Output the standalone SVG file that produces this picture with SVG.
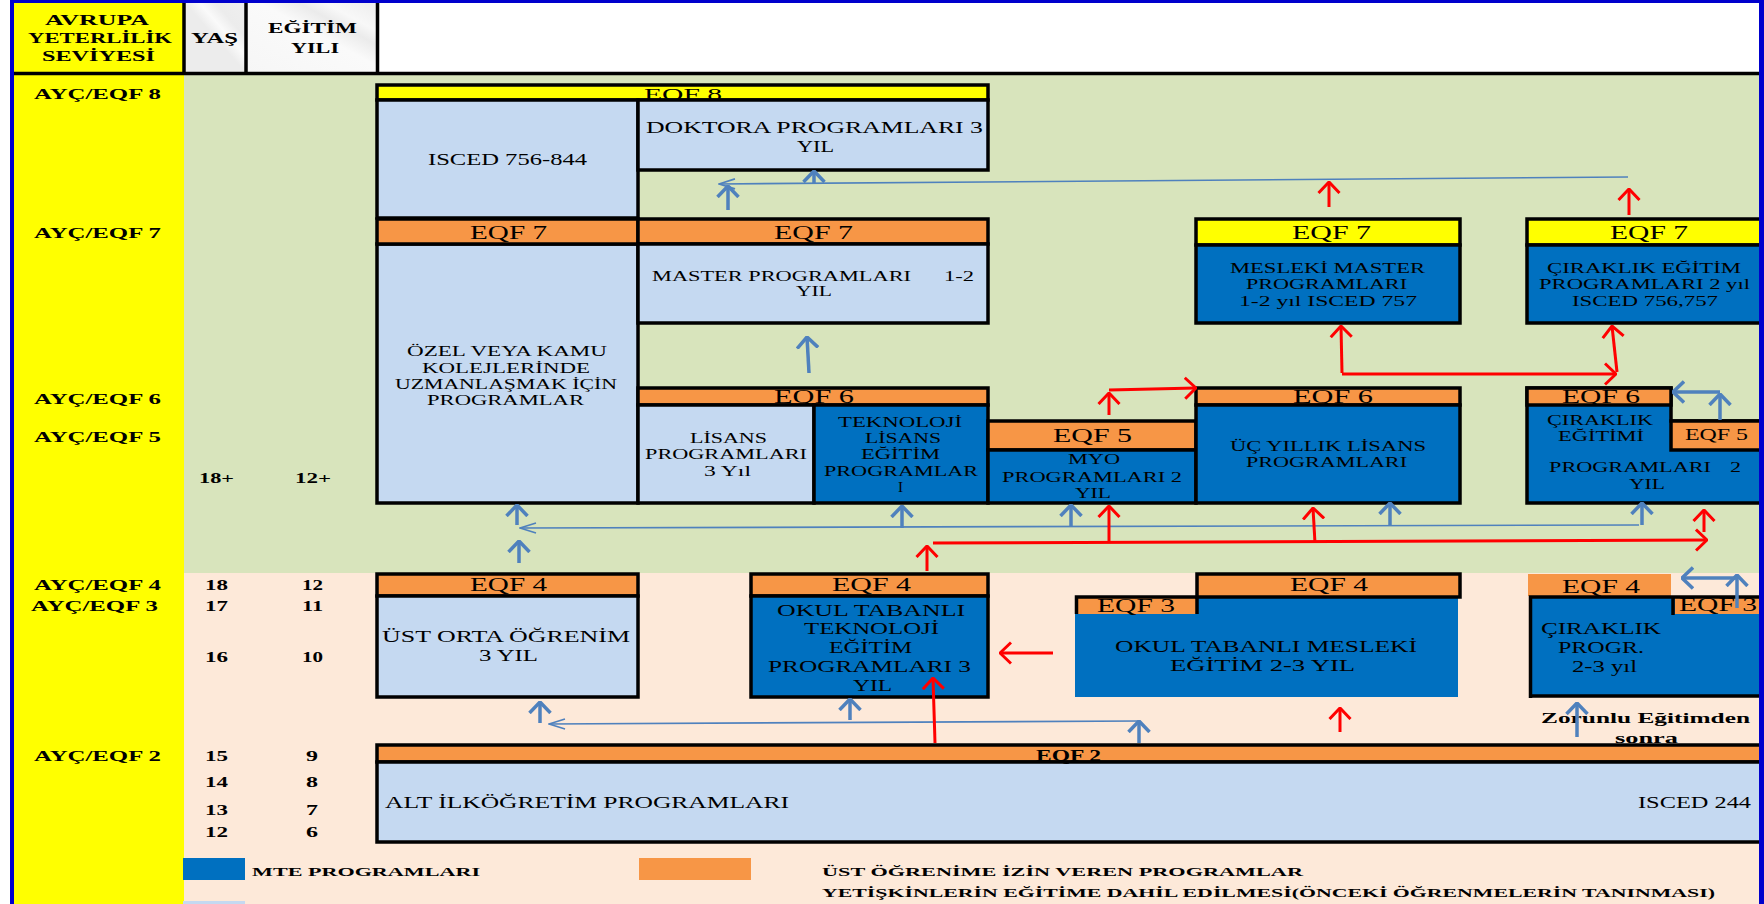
<svg xmlns="http://www.w3.org/2000/svg" width="1764" height="904" viewBox="0 0 1764 904">
  <style>
    text { font-family: "Liberation Serif", "Times New Roman", serif; fill: #000; }
    .b { font-weight: bold; }
    .s15 { font-size: 15px; }
    .s16 { font-size: 16px; }
    .s17 { font-size: 17px; }
    .s19 { font-size: 19px; }
    .s13 { font-size: 13px; }
    .box { stroke: #000; stroke-width: 3.5; }
    .yel { fill: #FFFF00; }
    .ora { fill: #F79646; }
    .lb { fill: #C5D9F1; }
    .db { fill: #0070C0; }
    .ab { fill: none; stroke: #4F81BD; stroke-width: 3.5; }
    .at { fill: none; stroke: #4F81BD; stroke-width: 1.6; }
    .ar { fill: none; stroke: #FF0000; stroke-width: 3; }
  </style>
  <defs>
    <linearGradient id="cellGray" x1="0" y1="1" x2="1" y2="0">
      <stop offset="0" stop-color="#ECECEC"/>
      <stop offset="0.5" stop-color="#ECECEC"/>
      <stop offset="0.62" stop-color="#FAFAFA"/>
      <stop offset="0.75" stop-color="#ECECEC"/>
      <stop offset="1" stop-color="#EFEFEF"/>
    </linearGradient>
    <linearGradient id="cellGray2" x1="0" y1="1" x2="1" y2="0">
      <stop offset="0" stop-color="#F6F6F6"/>
      <stop offset="0.55" stop-color="#FAFAFA"/>
      <stop offset="0.7" stop-color="#EBEBEB"/>
      <stop offset="0.8" stop-color="#F8F8F8"/>
      <stop offset="1" stop-color="#EDEDED"/>
    </linearGradient>
    <marker id="hb" markerUnits="userSpaceOnUse" viewBox="0 0 13 24" refX="12" refY="12" markerWidth="13" markerHeight="24" orient="auto">
      <path d="M1,1.5 L12,12 L1,22.5" fill="none" stroke="#4F81BD" stroke-width="3.5"/>
    </marker>
    <marker id="hr" markerUnits="userSpaceOnUse" viewBox="0 0 13 24" refX="12" refY="12" markerWidth="13" markerHeight="24" orient="auto">
      <path d="M1,1.5 L12,12 L1,22.5" fill="none" stroke="#FF0000" stroke-width="3"/>
    </marker>
    <marker id="ht" markerUnits="userSpaceOnUse" viewBox="0 0 18 12" refX="17" refY="6" markerWidth="18" markerHeight="12" orient="auto">
      <path d="M1,1 L17,6 L1,11" fill="none" stroke="#4F81BD" stroke-width="1.6"/>
    </marker>
  </defs>

  <!-- page backgrounds -->
  <rect x="0" y="0" width="1764" height="904" fill="#FFFFFF"/>
  <rect x="14" y="0" width="170" height="904" fill="#FFFF00"/>
  <rect x="184" y="75" width="1575" height="498" fill="#D8E4BC"/>
  <rect x="184" y="573" width="1575" height="331" fill="#FDE9D9"/>
  <rect x="185" y="3" width="61" height="70" fill="url(#cellGray)"/>
  <rect x="247" y="3" width="130" height="70" fill="url(#cellGray2)"/>

  <!-- header grid -->
  <g id="header">
    <path d="M14,73.5 H1759 M184,2 V73 M246,2 V73 M377.5,2 V73" stroke="#000" stroke-width="3.5" fill="none"/>
    <text class="b s15" x="45" y="25" textLength="104" lengthAdjust="spacingAndGlyphs">AVRUPA</text>
    <text class="b s15" x="28" y="43" textLength="144" lengthAdjust="spacingAndGlyphs">YETERLİLİK</text>
    <text class="b s15" x="42" y="61" textLength="113" lengthAdjust="spacingAndGlyphs">SEVİYESİ</text>
    <text class="b s15" x="191" y="43" textLength="47" lengthAdjust="spacingAndGlyphs">YAŞ</text>
    <text class="b s15" x="268" y="33" textLength="89" lengthAdjust="spacingAndGlyphs">EĞİTİM</text>
    <text class="b s15" x="291" y="53" textLength="48" lengthAdjust="spacingAndGlyphs">YILI</text>
  </g>

  <!-- level, age and year column -->
  <g id="levels">
    <text class="b s15" x="34" y="99" textLength="127" lengthAdjust="spacingAndGlyphs">AYÇ/EQF 8</text>
    <text class="b s15" x="34" y="238" textLength="127" lengthAdjust="spacingAndGlyphs">AYÇ/EQF 7</text>
    <text class="b s15" x="34" y="404" textLength="127" lengthAdjust="spacingAndGlyphs">AYÇ/EQF 6</text>
    <text class="b s15" x="34" y="442" textLength="127" lengthAdjust="spacingAndGlyphs">AYÇ/EQF 5</text>
    <text class="b s15" x="34" y="590" textLength="127" lengthAdjust="spacingAndGlyphs">AYÇ/EQF 4</text>
    <text class="b s15" x="31" y="611" textLength="127" lengthAdjust="spacingAndGlyphs">AYÇ/EQF 3</text>
    <text class="b s15" x="34" y="761" textLength="127" lengthAdjust="spacingAndGlyphs">AYÇ/EQF 2</text>
    <text class="b s15" x="199" y="483" textLength="35" lengthAdjust="spacingAndGlyphs">18+</text>
    <text class="b s15" x="295" y="483" textLength="36" lengthAdjust="spacingAndGlyphs">12+</text>
    <text class="b s15" x="205" y="590" textLength="23" lengthAdjust="spacingAndGlyphs">18</text>
    <text class="b s15" x="302" y="590" textLength="21" lengthAdjust="spacingAndGlyphs">12</text>
    <text class="b s15" x="205" y="611" textLength="23" lengthAdjust="spacingAndGlyphs">17</text>
    <text class="b s15" x="302" y="611" textLength="21" lengthAdjust="spacingAndGlyphs">11</text>
    <text class="b s15" x="205" y="662" textLength="23" lengthAdjust="spacingAndGlyphs">16</text>
    <text class="b s15" x="302" y="662" textLength="21" lengthAdjust="spacingAndGlyphs">10</text>
    <text class="b s15" x="205" y="761" textLength="23" lengthAdjust="spacingAndGlyphs">15</text>
    <text class="b s15" x="306" y="761" textLength="12" lengthAdjust="spacingAndGlyphs">9</text>
    <text class="b s15" x="205" y="787" textLength="23" lengthAdjust="spacingAndGlyphs">14</text>
    <text class="b s15" x="306" y="787" textLength="12" lengthAdjust="spacingAndGlyphs">8</text>
    <text class="b s15" x="205" y="815" textLength="23" lengthAdjust="spacingAndGlyphs">13</text>
    <text class="b s15" x="306" y="815" textLength="12" lengthAdjust="spacingAndGlyphs">7</text>
    <text class="b s15" x="205" y="837" textLength="23" lengthAdjust="spacingAndGlyphs">12</text>
    <text class="b s15" x="306" y="837" textLength="12" lengthAdjust="spacingAndGlyphs">6</text>
  </g>

  <!-- EQF 8 -->
  <g id="eqf8">
    <rect class="box yel" x="377" y="85" width="611" height="15"/>
    <text class="s16" x="644" y="100" textLength="78" lengthAdjust="spacingAndGlyphs">EQF 8</text>
  </g>
  <g id="isced-756-844">
    <rect class="box lb" x="377" y="100" width="261" height="118"/>
    <text class="s16" x="428" y="165" textLength="159" lengthAdjust="spacingAndGlyphs">ISCED 756-844</text>
  </g>
  <g id="doktora">
    <rect class="box lb" x="638" y="100" width="350" height="70"/>
    <text class="s16" x="646" y="133" textLength="337" lengthAdjust="spacingAndGlyphs">DOKTORA PROGRAMLARI 3</text>
    <text class="s16" x="797" y="152" textLength="37" lengthAdjust="spacingAndGlyphs">YIL</text>
  </g>

  <!-- EQF 7 -->
  <g id="ozel-kamu">
    <rect class="box lb" x="377" y="244" width="261" height="259"/>
    <rect class="box ora" x="377" y="219" width="261" height="25"/>
    <text class="s19" x="470" y="239" textLength="77" lengthAdjust="spacingAndGlyphs">EQF 7</text>
    <text class="s15" x="407" y="356" textLength="200" lengthAdjust="spacingAndGlyphs">ÖZEL VEYA KAMU</text>
    <text class="s15" x="422" y="373" textLength="168" lengthAdjust="spacingAndGlyphs">KOLEJLERİNDE</text>
    <text class="s15" x="395" y="389" textLength="222" lengthAdjust="spacingAndGlyphs">UZMANLAŞMAK İÇİN</text>
    <text class="s15" x="427" y="405" textLength="157" lengthAdjust="spacingAndGlyphs">PROGRAMLAR</text>
  </g>
  <g id="master">
    <rect class="box ora" x="638" y="219" width="350" height="25"/>
    <rect class="box lb" x="638" y="244" width="350" height="79"/>
    <text class="s19" x="774" y="239" textLength="79" lengthAdjust="spacingAndGlyphs">EQF 7</text>
    <text class="s15" x="652" y="281" textLength="259" lengthAdjust="spacingAndGlyphs">MASTER PROGRAMLARI</text>
    <text class="s15" x="944" y="281" textLength="30" lengthAdjust="spacingAndGlyphs">1-2</text>
    <text class="s15" x="796" y="296" textLength="36" lengthAdjust="spacingAndGlyphs">YIL</text>
  </g>
  <g id="mesleki-master">
    <rect class="box yel" x="1196" y="219" width="264" height="26"/>
    <rect class="box db" x="1196" y="245" width="264" height="78"/>
    <text class="s19" x="1292" y="239" textLength="79" lengthAdjust="spacingAndGlyphs">EQF 7</text>
    <text class="s15" x="1230" y="273" textLength="195" lengthAdjust="spacingAndGlyphs">MESLEKİ MASTER</text>
    <text class="s15" x="1246" y="289" textLength="161" lengthAdjust="spacingAndGlyphs">PROGRAMLARI</text>
    <text class="s15" x="1239" y="306" textLength="178" lengthAdjust="spacingAndGlyphs">1-2 yıl  ISCED 757</text>
  </g>
  <g id="ciraklik-egitim-7">
    <rect class="box yel" x="1527" y="219" width="240" height="26"/>
    <rect class="box db" x="1527" y="245" width="240" height="78"/>
    <text class="s19" x="1610" y="239" textLength="78" lengthAdjust="spacingAndGlyphs">EQF 7</text>
    <text class="s15" x="1547" y="273" textLength="194" lengthAdjust="spacingAndGlyphs">ÇIRAKLIK EĞİTİM</text>
    <text class="s15" x="1539" y="289" textLength="211" lengthAdjust="spacingAndGlyphs">PROGRAMLARI 2 yıl</text>
    <text class="s15" x="1572" y="306" textLength="146" lengthAdjust="spacingAndGlyphs">ISCED 756,757</text>
  </g>

  <!-- EQF 6 / EQF 5 -->
  <g id="lisans">
    <rect class="box ora" x="638" y="388" width="350" height="17"/>
    <rect class="box lb" x="638" y="405" width="176" height="98"/>
    <text class="s19" x="774" y="403" textLength="80" lengthAdjust="spacingAndGlyphs">EQF 6</text>
    <text class="s15" x="690" y="443" textLength="77" lengthAdjust="spacingAndGlyphs">LİSANS</text>
    <text class="s15" x="645" y="459" textLength="162" lengthAdjust="spacingAndGlyphs">PROGRAMLARI</text>
    <text class="s15" x="704" y="476" textLength="47" lengthAdjust="spacingAndGlyphs">3 Yıl</text>
  </g>
  <g id="teknoloji-lisans">
    <rect class="box db" x="814" y="405" width="174" height="98"/>
    <text class="s15" x="838" y="427" textLength="124" lengthAdjust="spacingAndGlyphs">TEKNOLOJİ</text>
    <text class="s15" x="865" y="443" textLength="76" lengthAdjust="spacingAndGlyphs">LİSANS</text>
    <text class="s15" x="861" y="459" textLength="79" lengthAdjust="spacingAndGlyphs">EĞİTİM</text>
    <text class="s15" x="824" y="476" textLength="154" lengthAdjust="spacingAndGlyphs">PROGRAMLAR</text>
    <text class="s15" x="898" y="492" textLength="5" lengthAdjust="spacingAndGlyphs">I</text>
  </g>
  <g id="myo">
    <rect class="box ora" x="988" y="421" width="208" height="29"/>
    <rect class="box db" x="988" y="450" width="208" height="53"/>
    <text class="s19" x="1053" y="442" textLength="79" lengthAdjust="spacingAndGlyphs">EQF 5</text>
    <text class="s15" x="1068" y="464" textLength="52" lengthAdjust="spacingAndGlyphs">MYO</text>
    <text class="s15" x="1002" y="482" textLength="180" lengthAdjust="spacingAndGlyphs">PROGRAMLARI 2</text>
    <text class="s15" x="1075" y="498" textLength="36" lengthAdjust="spacingAndGlyphs">YIL</text>
  </g>
  <g id="uc-yillik-lisans">
    <rect class="box ora" x="1196" y="388" width="264" height="17"/>
    <rect class="box db" x="1196" y="405" width="264" height="98"/>
    <text class="s19" x="1293" y="403" textLength="80" lengthAdjust="spacingAndGlyphs">EQF 6</text>
    <text class="s15" x="1230" y="451" textLength="196" lengthAdjust="spacingAndGlyphs">ÜÇ YILLIK LİSANS</text>
    <text class="s15" x="1246" y="467" textLength="161" lengthAdjust="spacingAndGlyphs">PROGRAMLARI</text>
  </g>
  <g id="ciraklik-egitimi-6">
    <path class="box db" d="M1527,388 H1671 V421 H1767 V503 H1527 Z"/>
    <rect class="box ora" x="1527" y="388" width="144" height="17"/>
    <rect class="box ora" x="1671" y="421" width="96" height="29"/>
    <text class="s19" x="1562" y="403" textLength="78" lengthAdjust="spacingAndGlyphs">EQF 6</text>
    <text class="s16" x="1685" y="440" textLength="63" lengthAdjust="spacingAndGlyphs">EQF 5</text>
    <text class="s15" x="1547" y="425" textLength="106" lengthAdjust="spacingAndGlyphs">ÇIRAKLIK</text>
    <text class="s15" x="1558" y="441" textLength="86" lengthAdjust="spacingAndGlyphs">EĞİTİMİ</text>
    <text class="s15" x="1549" y="472" textLength="162" lengthAdjust="spacingAndGlyphs">PROGRAMLARI</text>
    <text class="s15" x="1730" y="472" textLength="11" lengthAdjust="spacingAndGlyphs">2</text>
    <text class="s15" x="1629" y="489" textLength="36" lengthAdjust="spacingAndGlyphs">YIL</text>
  </g>

  <!-- EQF 4 / EQF 3 -->
  <g id="ust-orta">
    <rect class="box ora" x="377" y="574" width="261" height="22"/>
    <rect class="box lb" x="377" y="596" width="261" height="101"/>
    <text class="s19" x="470" y="591" textLength="77" lengthAdjust="spacingAndGlyphs">EQF 4</text>
    <text class="s17" x="382" y="642" textLength="248" lengthAdjust="spacingAndGlyphs">ÜST ORTA ÖĞRENİM</text>
    <text class="s17" x="479" y="661" textLength="59" lengthAdjust="spacingAndGlyphs">3 YIL</text>
  </g>
  <g id="okul-teknoloji">
    <rect class="box ora" x="751" y="574" width="237" height="22"/>
    <rect class="box db" x="751" y="596" width="237" height="101"/>
    <text class="s19" x="832" y="591" textLength="79" lengthAdjust="spacingAndGlyphs">EQF 4</text>
    <text class="s17" x="777" y="616" textLength="188" lengthAdjust="spacingAndGlyphs">OKUL TABANLI</text>
    <text class="s17" x="804" y="634" textLength="135" lengthAdjust="spacingAndGlyphs">TEKNOLOJİ</text>
    <text class="s17" x="829" y="653" textLength="83" lengthAdjust="spacingAndGlyphs">EĞİTİM</text>
    <text class="s17" x="768" y="672" textLength="203" lengthAdjust="spacingAndGlyphs">PROGRAMLARI 3</text>
    <text class="s17" x="853" y="691" textLength="39" lengthAdjust="spacingAndGlyphs">YIL</text>
  </g>
  <g id="okul-mesleki">
    <rect class="db" x="1075" y="597" width="383" height="100"/>
    <rect class="ora" x="1075" y="597" width="122" height="17"/>
    <path d="M1076.5,614 V597 H1197 V614" fill="none" stroke="#000" stroke-width="3.5"/>
    <rect class="box ora" x="1197" y="574" width="263" height="23"/>
    <text class="s19" x="1097" y="612" textLength="78" lengthAdjust="spacingAndGlyphs">EQF 3</text>
    <text class="s19" x="1290" y="591" textLength="78" lengthAdjust="spacingAndGlyphs">EQF 4</text>
    <text class="s17" x="1115" y="652" textLength="302" lengthAdjust="spacingAndGlyphs">OKUL TABANLI MESLEKİ</text>
    <text class="s17" x="1170" y="671" textLength="185" lengthAdjust="spacingAndGlyphs">EĞİTİM 2-3 YIL</text>
  </g>
  <g id="ciraklik-progr">
    <rect class="ora" x="1528" y="574" width="143" height="22"/>
    <rect class="db" x="1529" y="597" width="235" height="99"/>
    <rect class="ora" x="1675" y="598" width="89" height="16"/>
    <path d="M1530.5,698 V597 H1764 M1673,597 V615 M1529,696 H1764" fill="none" stroke="#000" stroke-width="3.5"/>
    <text class="s19" x="1562" y="593" textLength="78" lengthAdjust="spacingAndGlyphs">EQF 4</text>
    <text class="s19" x="1679" y="611" textLength="78" lengthAdjust="spacingAndGlyphs">EQF 3</text>
    <text class="s17" x="1541" y="634" textLength="120" lengthAdjust="spacingAndGlyphs">ÇIRAKLIK</text>
    <text class="s17" x="1558" y="653" textLength="86" lengthAdjust="spacingAndGlyphs">PROGR.</text>
    <text class="s17" x="1572" y="672" textLength="65" lengthAdjust="spacingAndGlyphs">2-3 yıl</text>
  </g>
  <g id="zorunlu-note">
    <text class="b s15" x="1541" y="723" textLength="209" lengthAdjust="spacingAndGlyphs">Zorunlu Eğitimden</text>
    <text class="b s15" x="1615" y="743" textLength="63" lengthAdjust="spacingAndGlyphs">sonra</text>
  </g>

  <!-- EQF 2 -->
  <g id="alt-ilkogretim">
    <rect class="box ora" x="377" y="745" width="1390" height="17"/>
    <rect class="box lb" x="377" y="762" width="1390" height="80"/>
    <text class="b s16" x="1036" y="761" textLength="65" lengthAdjust="spacingAndGlyphs">EQF 2</text>
    <text class="s17" x="385" y="808" textLength="404" lengthAdjust="spacingAndGlyphs">ALT İLKÖĞRETİM PROGRAMLARI</text>
    <text class="s17" x="1638" y="808" textLength="113" lengthAdjust="spacingAndGlyphs">ISCED 244</text>
  </g>

  <!-- legend -->
  <g id="legend">
    <rect class="db" x="183" y="858" width="62" height="22"/>
    <rect class="ora" x="639" y="858" width="112" height="22"/>
    <rect class="lb" x="183" y="901" width="62" height="3"/>
    <text class="b s13" x="252" y="876" textLength="228" lengthAdjust="spacingAndGlyphs">MTE PROGRAMLARI</text>
    <text class="b s13" x="822" y="876" textLength="481" lengthAdjust="spacingAndGlyphs">ÜST ÖĞRENİME İZİN VEREN PROGRAMLAR</text>
    <text class="b s13" x="822" y="897" textLength="893" lengthAdjust="spacingAndGlyphs">YETİŞKİNLERİN EĞİTİME DAHİL EDİLMESİ(ÖNCEKİ ÖĞRENMELERİN TANINMASI)</text>
  </g>

  <!-- connectors -->
  <g id="connectors">
    <!-- thin blue transfer lines -->
    <path class="at" d="M1628,177 L719,184" marker-end="url(#ht)"/>
    <path class="at" d="M1639,525 L520,528" marker-end="url(#ht)"/>
    <path class="at" d="M1140,721 L549,724" marker-end="url(#ht)"/>
    <!-- thick blue arrows -->
    <path class="ab" d="M728,210 L728,186" marker-end="url(#hb)"/>
    <path class="ab" d="M814,184 L814,171" marker-end="url(#hb)"/>
    <path class="ab" d="M809,373 L807,337" marker-end="url(#hb)"/>
    <path class="ab" d="M517,525 L517,505" marker-end="url(#hb)"/>
    <path class="ab" d="M519,563 L519,541" marker-end="url(#hb)"/>
    <path class="ab" d="M902,528 L902,506" marker-end="url(#hb)"/>
    <path class="ab" d="M1071,527 L1071,505" marker-end="url(#hb)"/>
    <path class="ab" d="M1390,525 L1390,503" marker-end="url(#hb)"/>
    <path class="ab" d="M1642,525 L1642,503" marker-end="url(#hb)"/>
    <path class="ab" d="M1720,420 L1720,394" marker-end="url(#hb)"/>
    <path class="ab" d="M1720,392 L1673,392" marker-end="url(#hb)"/>
    <path class="ab" d="M850,720 L850,699" marker-end="url(#hb)"/>
    <path class="ab" d="M540,723 L540,702" marker-end="url(#hb)"/>
    <path class="ab" d="M1139,743 L1139,721" marker-end="url(#hb)"/>
    <path class="ab" d="M1577,737 L1577,703" marker-end="url(#hb)"/>
    <path class="ab" d="M1737,608 L1737,575" marker-end="url(#hb)"/>
    <path class="ab" d="M1737,578 L1682,578" marker-end="url(#hb)"/>
    <!-- red progression arrows -->
    <path class="ar" d="M1329,207 L1329,182" marker-end="url(#hr)"/>
    <path class="ar" d="M1629,215 L1629,189" marker-end="url(#hr)"/>
    <path class="ar" d="M1342,373 L1341,326" marker-end="url(#hr)"/>
    <path class="ar" d="M1342,374 L1616,374" marker-end="url(#hr)"/>
    <path class="ar" d="M1617,372 L1612,326" marker-end="url(#hr)"/>
    <path class="ar" d="M1109,415 L1109,393" marker-end="url(#hr)"/>
    <path class="ar" d="M1109,390 L1196,388" marker-end="url(#hr)"/>
    <path class="ar" d="M933,543 L1707,540" marker-end="url(#hr)"/>
    <path class="ar" d="M927,571 L927,546" marker-end="url(#hr)"/>
    <path class="ar" d="M1109,541 L1109,506" marker-end="url(#hr)"/>
    <path class="ar" d="M1315,543 L1313,508" marker-end="url(#hr)"/>
    <path class="ar" d="M1704,532 L1704,510" marker-end="url(#hr)"/>
    <path class="ar" d="M935,743 L933,678" marker-end="url(#hr)"/>
    <path class="ar" d="M1053,653 L1000,653" marker-end="url(#hr)"/>
    <path class="ar" d="M1340,732 L1340,708" marker-end="url(#hr)"/>
  </g>

  <!-- outer blue frame -->
  <g id="frame" fill="#0000CD">
    <rect x="10" y="0" width="1754" height="3"/>
    <rect x="10" y="0" width="4" height="904"/>
    <rect x="1759" y="0" width="5" height="904"/>
  </g>
</svg>
